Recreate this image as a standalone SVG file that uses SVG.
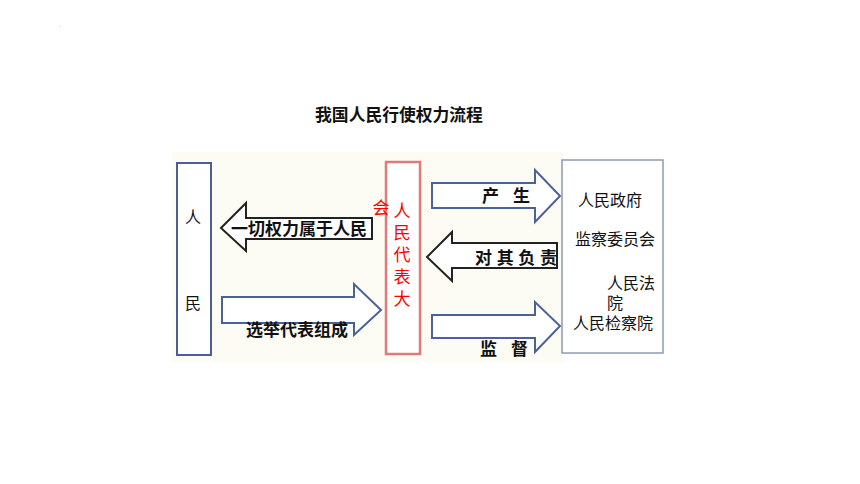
<svg xmlns="http://www.w3.org/2000/svg" width="860" height="484" viewBox="0 0 860 484">
<style>
text{font-family:"Liberation Sans","Noto Sans CJK SC",sans-serif;}
.box{fill:#ffffff;}
.blue{stroke:#4a5f9a;stroke-width:2;}
.red{stroke:#e07a7a;stroke-width:2.5;}
.gray{stroke:#8c9bb0;stroke-width:1.5;}
.arB{fill:#ffffff;stroke:#4a6199;stroke-width:2;stroke-linejoin:miter;}
.arK{fill:#ffffff;stroke:#222222;stroke-width:2;stroke-linejoin:miter;}
.lbl{font-size:17px;font-weight:bold;fill:#111;}
.t{font-size:16px;fill:#111;}
.r{font-size:17px;fill:#ff0000;}
</style>
<rect width="860" height="484" fill="#ffffff"/>
<rect x="172" y="152" width="392" height="210" fill="#fdfcf4"/>
<text x="59" y="27" font-size="5" fill="#444">.</text>
<text x="399" y="121" font-size="16.8" font-weight="bold" fill="#111" text-anchor="middle">我国人民行使权力流程</text>
<g id="people">
<rect class="box blue" x="177" y="163" width="34" height="192"/>
<text class="t" x="193" y="223" text-anchor="middle">人</text>
<text class="t" x="193" y="309" text-anchor="middle">民</text>
</g>
<g id="npc">
<rect class="box red" x="386" y="162" width="34" height="192"/>
<text class="r" x="381" y="214" text-anchor="middle">会</text>
<text class="r" x="402" y="217" text-anchor="middle">人</text>
<text class="r" x="402" y="239" text-anchor="middle">民</text>
<text class="r" x="402" y="261" text-anchor="middle">代</text>
<text class="r" x="402" y="283" text-anchor="middle">表</text>
<text class="r" x="402" y="305" text-anchor="middle">大</text>
</g>
<g id="organs">
<rect class="box gray" x="562" y="160" width="101" height="193"/>
<text class="t" x="610" y="206" text-anchor="middle">人民政府</text>
<text class="t" x="615" y="245" text-anchor="middle">监察委员会</text>
<text class="t" x="607" y="289">人民法</text>
<text class="t" x="607" y="309">院</text>
<text class="t" x="573" y="329">人民检察院</text>
</g>
<g id="connectors">
<polygon class="arK" points="221,228 246,203 246,218 372,218 372,239 246,239 246,251"/>
<text class="lbl" x="299" y="235" text-anchor="middle">一切权力属于人民</text>
<polygon class="arB" points="222,297 354,297 354,284 381,310 354,335 354,323 222,323"/>
<text class="lbl" x="297" y="336" text-anchor="middle">选举代表组成</text>
<polygon class="arB" points="432,183 535,183 535,170 560,196 535,222 535,208 432,208"/>
<text class="lbl" x="506" y="202" text-anchor="middle" xml:space="preserve">产   生</text>
<polygon class="arK" points="427,257 452,232 452,243 557,243 557,268 452,268 452,281"/>
<text class="lbl" x="516" y="264" text-anchor="middle" xml:space="preserve">对 其 负 责</text>
<polygon class="arB" points="432,315 535,315 535,302 560,326 535,352 535,338 432,338"/>
<text class="lbl" x="504" y="355" text-anchor="middle" xml:space="preserve">监   督</text>
</g>
</svg>
